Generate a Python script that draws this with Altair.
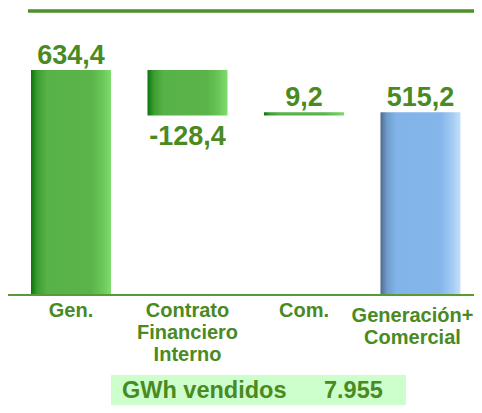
import altair as alt
import pandas as pd

categories = ["Gen.", "Contrato|Financiero|Interno", "Com.", "Generación+|Comercial"]
keys = ["gen", "cfi", "com", "tot"]
values = [634.4, -128.4, 9.2, 515.2]
is_total = [False, False, False, True]
value_labels = ["634,4", "-128,4", "9,2", "515,2"]
box_label = "GWh vendidos"
box_value = "7.955"

# waterfall start/end
starts, ends = [], []
run = 0.0
for v, t in zip(values, is_total):
    if t:
        starts.append(0.0)
        ends.append(v)
        run = v
    else:
        starts.append(run)
        run = run + v
        ends.append(run)

df = pd.DataFrame({
    "key": keys, "cat": categories, "value": values, "start": starts, "end": ends,
    "total": is_total, "label": value_labels,
    "top": [max(s, e) for s, e in zip(starts, ends)],
    "bottom": [min(s, e) for s, e in zip(starts, ends)],
})

FONT = "Liberation Sans"
GREEN_TXT = "#4a8a22"

xs = alt.Scale(domain=keys, paddingInner=0.313, paddingOuter=0.1567, align=0.63)
ys = alt.Scale(domain=[-310.1, 809.2], nice=False, zero=False)
X = alt.X("key:N", scale=xs, axis=None, sort=keys)

base = alt.Chart(df)

green_grad = alt.Gradient(
    gradient="linear", x1=0, x2=1, y1=0, y2=0,
    stops=[
        alt.GradientStop(color="#0a760a", offset=0.0),
        alt.GradientStop(color="#3c9e32", offset=0.08),
        alt.GradientStop(color="#57b247", offset=0.2),
        alt.GradientStop(color="#5ab44a", offset=0.75),
        alt.GradientStop(color="#6cc85a", offset=0.9),
        alt.GradientStop(color="#80dc6c", offset=1.0),
    ],
)
blue_grad = alt.Gradient(
    gradient="linear", x1=0, x2=1, y1=0, y2=0,
    stops=[
        alt.GradientStop(color="#4e6a8e", offset=0.0),
        alt.GradientStop(color="#6e9ccc", offset=0.08),
        alt.GradientStop(color="#82b4ea", offset=0.2),
        alt.GradientStop(color="#84b6ec", offset=0.75),
        alt.GradientStop(color="#a4cbf2", offset=0.9),
        alt.GradientStop(color="#c6e0fa", offset=1.0),
    ],
)

green_bars = base.transform_filter("!datum.total").mark_bar(color=green_grad).encode(
    x=X, y=alt.Y("start:Q", scale=ys, axis=None), y2="end:Q"
)
blue_bars = base.transform_filter("datum.total").mark_bar(color=blue_grad).encode(
    x=X, y=alt.Y("start:Q", scale=ys, axis=None), y2="end:Q"
)

pos_labels = base.transform_filter("datum.value >= 0").mark_text(
    font=FONT, fontSize=27, fontWeight="bold", color=GREEN_TXT, baseline="middle", dy=-14
).encode(x=X, y=alt.Y("top:Q", scale=ys), text="label:N")

neg_labels = base.transform_filter("datum.value < 0").mark_text(
    font=FONT, fontSize=27, fontWeight="bold", color=GREEN_TXT, baseline="middle", dy=21
).encode(x=X, y=alt.Y("bottom:Q", scale=ys), text="label:N")

cat_labels = base.transform_filter("!datum.total").mark_text(
    font=FONT, fontSize=20, fontWeight="bold", color=GREEN_TXT, baseline="middle",
    lineBreak="|", lineHeight=22
).encode(x=X, y=alt.value(303), text="cat:N")

cat_labels_last = base.transform_filter("datum.total").mark_text(
    font=FONT, fontSize=20, fontWeight="bold", color=GREEN_TXT, baseline="middle",
    lineBreak="|", lineHeight=22, dx=-8
).encode(x=X, y=alt.value(308), text="cat:N")

baseline = base.mark_rule(color="#5a9a34", strokeWidth=2).encode(
    y=alt.datum(0, scale=ys), x=alt.value(-2), x2=alt.value(466)
)

top_line = alt.Chart(pd.DataFrame({"a": [0]})).mark_rule(color="#4f8f2b", strokeWidth=3.5).encode(
    x=alt.value(20), x2=alt.value(466), y=alt.value(3)
)

box = alt.Chart(pd.DataFrame({"a": [0]})).mark_rect(color="#ccffcc").encode(
    x=alt.value(103), x2=alt.value(398), y=alt.value(367), y2=alt.value(397)
)
box_t1 = alt.Chart(pd.DataFrame({"t": [box_label]})).mark_text(
    font=FONT, fontSize=23.5, fontWeight="bold", color=GREEN_TXT, align="left", baseline="middle"
).encode(x=alt.value(114), y=alt.value(383), text="t:N")
box_t2 = alt.Chart(pd.DataFrame({"t": [box_value]})).mark_text(
    font=FONT, fontSize=23.5, fontWeight="bold", color=GREEN_TXT, align="left", baseline="middle"
).encode(x=alt.value(316), y=alt.value(383), text="t:N")

chart = alt.layer(
    top_line, green_bars, blue_bars, baseline, pos_labels, neg_labels, cat_labels,
    cat_labels_last, box, box_t1, box_t2
).properties(
    width=466, height=397, autosize=alt.AutoSizeParams(type="none"), padding=0
).configure_view(stroke=None)

chart.save("out.html", embed_options={"renderer": "svg", "actions": False})
